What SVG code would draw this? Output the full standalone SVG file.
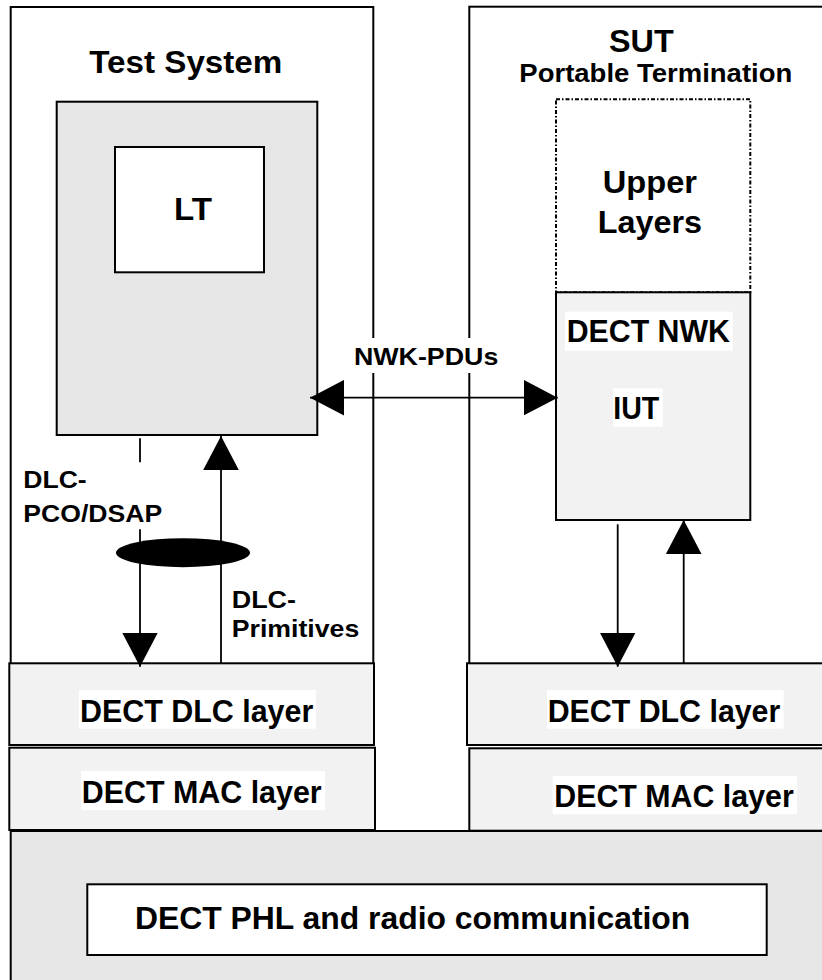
<svg xmlns="http://www.w3.org/2000/svg" width="822" height="980" viewBox="0 0 822 980">
  <style>
    .box { stroke: #000; stroke-width: 2; }
    .white { fill: #fff; }
    .gray { fill: #e6e6e6; }
    .light { fill: #f2f2f2; }
    .dash { fill: #fff; stroke: #000; stroke-width: 2; stroke-dasharray: 4 2 1.5 2; }
    .bg { fill: #fff; }
    .t { font-family: "Liberation Sans", Arial, Helvetica, sans-serif; font-weight: bold; fill: #000; }
    .big { font-size: 32px; }
    .mid { font-size: 26px; }
    .sm { font-size: 24px; }
    .ln { stroke: #000; stroke-width: 1.8; fill: none; }
  </style>
  <defs>
    <marker id="ah" markerUnits="userSpaceOnUse" markerWidth="36" markerHeight="36" refX="34" refY="17.8" orient="auto-start-reverse" viewBox="0 0 36 36">
      <path d="M0,0 L34,17.8 L0,35.6 Z" fill="#000"/>
    </marker>
  </defs>

  <g id="test-system">
    <rect class="box white" x="10.7" y="7" width="362.6" height="680"/>
    <text class="t big" x="89.3" y="73.3" textLength="193" lengthAdjust="spacingAndGlyphs">Test System</text>
  </g>
  <g id="sut">
    <rect class="box white" x="469.3" y="6.7" width="370" height="680"/>
    <text class="t big" x="609" y="51.7" textLength="64.7" lengthAdjust="spacingAndGlyphs">SUT</text>
    <text class="t mid" x="519.3" y="82.3" textLength="273" lengthAdjust="spacingAndGlyphs">Portable Termination</text>
  </g>
  <g id="lt-container">
    <rect class="box gray" x="56.7" y="101.7" width="260.6" height="333.3"/>
  </g>
  <g id="lt">
    <rect class="box white" x="115" y="147" width="149" height="125.3"/>
    <text class="t big" x="174" y="220" textLength="38" lengthAdjust="spacingAndGlyphs">LT</text>
  </g>
  <g id="upper-layers">
    <rect class="dash" x="556" y="99.3" width="194.3" height="193"/>
    <text class="t big" x="602.7" y="192.7" textLength="94.3" lengthAdjust="spacingAndGlyphs">Upper</text>
    <text class="t big" x="597.7" y="233.3" textLength="104.3" lengthAdjust="spacingAndGlyphs">Layers</text>
  </g>
  <g id="dect-nwk">
    <rect class="box light" x="556" y="292.3" width="194.3" height="227.7"/>
    <rect class="bg" x="565" y="311.7" width="167.7" height="39"/>
    <text class="t big" x="566.7" y="341.7" textLength="163.3" lengthAdjust="spacingAndGlyphs">DECT NWK</text>
    <rect class="bg" x="613" y="388.3" width="49.7" height="38.4"/>
    <text class="t big" x="613.3" y="419.3" textLength="46" lengthAdjust="spacingAndGlyphs">IUT</text>
  </g>
  <g id="dlc-left">
    <rect class="box light" x="9.3" y="663.3" width="364.7" height="81.7"/>
    <rect class="bg" x="79" y="690" width="237" height="38.7"/>
    <text class="t big" x="80" y="721.7" textLength="233.3" lengthAdjust="spacingAndGlyphs">DECT DLC layer</text>
  </g>
  <g id="mac-left">
    <rect class="box light" x="9.3" y="747.7" width="365.7" height="82.3"/>
    <rect class="bg" x="81" y="771" width="244" height="39"/>
    <text class="t big" x="81.7" y="803.3" textLength="240" lengthAdjust="spacingAndGlyphs">DECT MAC layer</text>
  </g>
  <g id="dlc-right">
    <rect class="box light" x="467" y="663.3" width="370" height="81.7"/>
    <rect class="bg" x="547" y="690" width="236.7" height="38.7"/>
    <text class="t big" x="547.7" y="721.7" textLength="232.6" lengthAdjust="spacingAndGlyphs">DECT DLC layer</text>
  </g>
  <g id="mac-right">
    <rect class="box light" x="469.3" y="748.3" width="370" height="82.4"/>
    <rect class="bg" x="552.7" y="776" width="244.3" height="38.3"/>
    <text class="t big" x="554.3" y="806.7" textLength="239.4" lengthAdjust="spacingAndGlyphs">DECT MAC layer</text>
  </g>
  <g id="phl">
    <rect class="box gray" x="10.7" y="831" width="830" height="170"/>
    <rect class="box white" x="87.3" y="884.3" width="679.4" height="70.7"/>
    <text class="t big" x="135" y="929.3" textLength="555.3" lengthAdjust="spacingAndGlyphs">DECT PHL and radio communication</text>
  </g>

  <g id="connectors">
    <line class="ln" x1="310" y1="397.7" x2="557.7" y2="397.7" marker-start="url(#ah)" marker-end="url(#ah)"/>
    <line class="ln" x1="140" y1="438.3" x2="140" y2="462.3"/>
    <line class="ln" x1="140" y1="529.3" x2="140" y2="666.7" marker-end="url(#ah)"/>
    <line class="ln" x1="221" y1="663.3" x2="221" y2="436" marker-end="url(#ah)"/>
    <ellipse cx="183" cy="552.7" rx="67" ry="14.5" fill="#000"/>
    <line class="ln" x1="617.7" y1="524.3" x2="617.7" y2="666.7" marker-end="url(#ah)"/>
    <line class="ln" x1="683.7" y1="663.3" x2="683.7" y2="520" marker-end="url(#ah)"/>
  </g>

  <g id="labels">
    <rect class="bg" x="350" y="338" width="152" height="35"/>
    <text class="t sm" x="354" y="365" textLength="144.3" lengthAdjust="spacingAndGlyphs">NWK-PDUs</text>
    <text class="t sm" x="23.3" y="487.7" textLength="63.4" lengthAdjust="spacingAndGlyphs">DLC-</text>
    <text class="t sm" x="23.3" y="521.7" textLength="139" lengthAdjust="spacingAndGlyphs">PCO/DSAP</text>
    <text class="t sm" x="231.7" y="608" textLength="64.3" lengthAdjust="spacingAndGlyphs">DLC-</text>
    <text class="t sm" x="231.7" y="637" textLength="127.6" lengthAdjust="spacingAndGlyphs">Primitives</text>
  </g>
</svg>
